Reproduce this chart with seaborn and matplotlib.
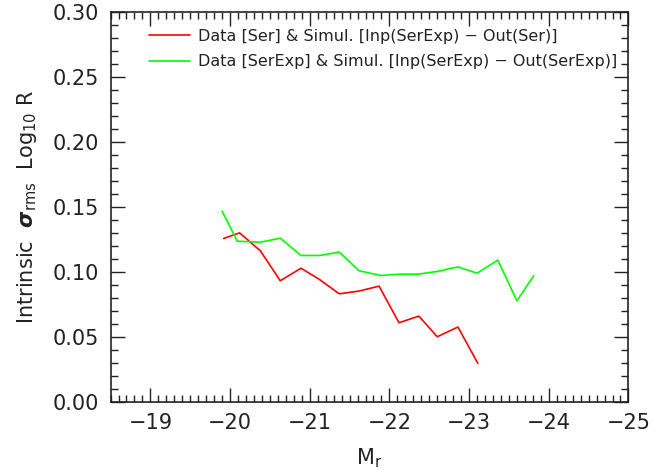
import numpy as np
import pandas as pd
import matplotlib
matplotlib.use("Agg")
import matplotlib.pyplot as plt
import seaborn as sns
from matplotlib.ticker import MultipleLocator

# ---- data ----
mag_ser = [-19.92, -20.12, -20.38, -20.63, -20.89, -21.12, -21.37, -21.62,
           -21.87, -22.12, -22.37, -22.60, -22.86, -23.11]
sig_ser = [0.1257, 0.1300, 0.1162, 0.0931, 0.1028, 0.0942, 0.0831, 0.0852,
           0.0890, 0.0608, 0.0659, 0.0500, 0.0575, 0.0295]

mag_serexp = [-19.90, -20.09, -20.38, -20.63, -20.89, -21.13, -21.37, -21.62,
              -21.89, -22.13, -22.36, -22.60, -22.86, -23.10, -23.36, -23.60, -23.81]
sig_serexp = [0.1467, 0.1236, 0.1228, 0.1259, 0.1126, 0.1126, 0.1152, 0.1008,
              0.0972, 0.0982, 0.0982, 0.1003, 0.1038, 0.0990, 0.1090, 0.0777, 0.0969]

label_ser = "Data [Ser] & Simul. [Inp(SerExp) \u2212 Out(Ser)]"
label_serexp = "Data [SerExp] & Simul. [Inp(SerExp) \u2212 Out(SerExp)]"

xticks = [-19, -20, -21, -22, -23, -24, -25]
yticks = [0.00, 0.05, 0.10, 0.15, 0.20, 0.25, 0.30]

df = pd.concat([
    pd.DataFrame({"Mr": mag_ser, "sigma": sig_ser, "set": label_ser}),
    pd.DataFrame({"Mr": mag_serexp, "sigma": sig_serexp, "set": label_serexp}),
], ignore_index=True)

sns.set_theme(style="ticks")
plt.rcParams["font.family"] = ["DejaVu Sans"]
plt.rcParams["axes.unicode_minus"] = True

fig = plt.figure(figsize=(6.7, 4.7), dpi=100)
ax = fig.add_axes([0.165, 0.1453, 0.773, 0.829])

sns.lineplot(data=df, x="Mr", y="sigma", hue="set",
             palette={label_ser: "#ff0000", label_serexp: "#00ff00"},
             linewidth=1.2, sort=False, ax=ax, legend=True)

ax.set_xlim(-18.5, -25)
ax.set_ylim(0.0, 0.30)
ax.set_xticks(xticks)
ax.set_xticklabels([f"\u2212{abs(v)}" for v in xticks])
ax.set_yticks(yticks)
ax.set_yticklabels([f"{v:.2f}" for v in yticks])
ax.xaxis.set_minor_locator(MultipleLocator(0.1))
ax.yaxis.set_minor_locator(MultipleLocator(0.01))
ax.tick_params(which="both", direction="in", top=True, right=True,
               color="#222222", width=1.0)
ax.tick_params(which="major", length=10, labelsize=15, pad=8, labelcolor="#222222")
ax.tick_params(which="minor", length=5)
for s in ax.spines.values():
    s.set_color("#222222")
    s.set_linewidth(1.2)

ax.set_xlabel(r"M$_{\rm r}$", fontsize=15, color="#222222", labelpad=10)
ax.set_ylabel(r"Intrinsic  $\mathbfit{\sigma}_{\rm rms}$  Log$_{10}$ R", fontsize=15,
              color="#222222", labelpad=10)

leg = ax.legend(loc="upper left", bbox_to_anchor=(0.074, 0.957), frameon=False,
                fontsize=11.5, handlelength=2.6, handletextpad=0.5,
                labelspacing=0.65, borderpad=0, borderaxespad=0)
for t in leg.get_texts():
    t.set_color("#222222")

fig.savefig("out.png", dpi=100)
